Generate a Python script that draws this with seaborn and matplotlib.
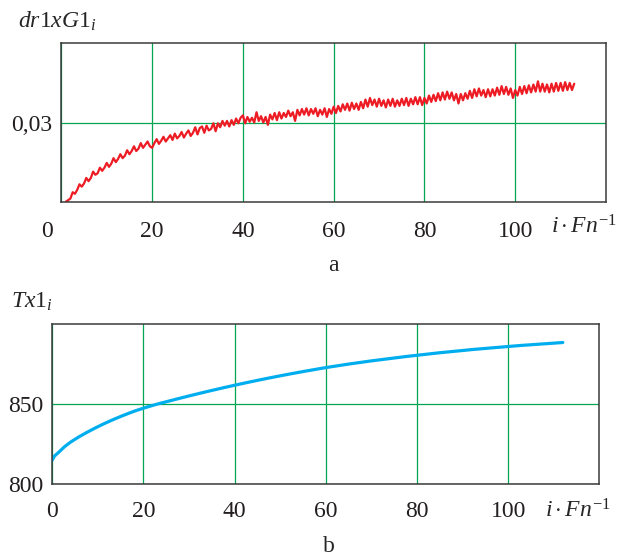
import numpy as np
import pandas as pd
import matplotlib
matplotlib.use("Agg")
import matplotlib.pyplot as plt
import matplotlib.transforms as mtransforms
import seaborn as sns

# ---- data ----
# panel a: dr1xG1_i sampled every 0.5 of i*Fn^-1 starting at 1.0
dr1xG1 = [
    # 1.0 - 5.5
    0.0200, 0.0202, 0.0204, 0.0212, 0.0210, 0.0215, 0.0222, 0.0219, 0.0223, 0.0230,
    # 6.0 - 10.5
    0.0226, 0.0230, 0.0238, 0.0234, 0.0236, 0.0243, 0.0239, 0.0243, 0.0249, 0.0244,
    # 11.0 - 15.5
    0.0248, 0.0255, 0.0250, 0.0254, 0.0260, 0.0255, 0.0258, 0.0265, 0.0260, 0.0264,
    # 16.0 - 20.5
    0.0270, 0.0264, 0.0267, 0.0274, 0.0268, 0.0272, 0.0276, 0.0270, 0.0268, 0.0274,
    # 21.0 - 25.5
    0.0279, 0.0273, 0.0277, 0.0282, 0.0276, 0.0280, 0.0284, 0.0278, 0.0286, 0.0280,
    # 26.0 - 29.5
    0.0283, 0.0288, 0.0281, 0.0286, 0.0290, 0.0283, 0.0287, 0.0294,
    # 30.0 - 34.5
    0.0285, 0.0293, 0.0295, 0.0287, 0.0296, 0.0290, 0.0292, 0.0299, 0.0289, 0.0299,
    # 35.0 - 39.5
    0.0294, 0.0302, 0.0296, 0.0302, 0.0295, 0.0303, 0.0297, 0.0305, 0.0299, 0.0306,
    # 40.0 - 44.5
    0.0309, 0.0299, 0.0307, 0.0301, 0.0306, 0.0300, 0.0313, 0.0302, 0.0308, 0.0300,
    # 45.0 - 49.5
    0.0307, 0.0297, 0.0310, 0.0304, 0.0312, 0.0303, 0.0313, 0.0305, 0.0312, 0.0307,
    # 50.0 - 54.5
    0.0315, 0.0308, 0.0313, 0.0302, 0.0316, 0.0309, 0.0317, 0.0310, 0.0318, 0.0309,
    # 55.0 - 59.5
    0.0317, 0.0311, 0.0318, 0.0308, 0.0316, 0.0310, 0.0318, 0.0307, 0.0317, 0.0311,
    # 60.0 - 64.5
    0.0320, 0.0312, 0.0321, 0.0314, 0.0323, 0.0316, 0.0324, 0.0315, 0.0325, 0.0317,
    # 65.0 - 69.5
    0.0324, 0.0316, 0.0326, 0.0318, 0.0329, 0.0320, 0.0331, 0.0322, 0.0329, 0.0320,
    # 70.0 - 74.5
    0.0330, 0.0321, 0.0328, 0.0319, 0.0329, 0.0321, 0.0330, 0.0320, 0.0328, 0.0321,
    # 75.0 - 79.5
    0.0330, 0.0322, 0.0331, 0.0321, 0.0330, 0.0323, 0.0332, 0.0323, 0.0332, 0.0322,
    # 80.0 - 84.5
    0.0331, 0.0324, 0.0334, 0.0326, 0.0335, 0.0327, 0.0337, 0.0328, 0.0338, 0.0329,
    # 85.0 - 89.5
    0.0339, 0.0330, 0.0338, 0.0328, 0.0336, 0.0324, 0.0336, 0.0328, 0.0337, 0.0330,
    # 90.0 - 94.5
    0.0340, 0.0331, 0.0342, 0.0333, 0.0343, 0.0334, 0.0341, 0.0332, 0.0342, 0.0333,
    # 95.0 - 99.5
    0.0342, 0.0334, 0.0344, 0.0335, 0.0346, 0.0336, 0.0345, 0.0335, 0.0343, 0.0331,
    # 100.0 - 104.5
    0.0341, 0.0334, 0.0345, 0.0336, 0.0346, 0.0337, 0.0347, 0.0338, 0.0348, 0.0339,
    # 105.0 - 109.5
    0.0352, 0.0339, 0.0349, 0.0339, 0.0348, 0.0338, 0.0349, 0.0339, 0.0350, 0.0340,
    # 110.0 - 113.0
    0.0350, 0.0340, 0.0351, 0.0341, 0.0350, 0.0341, 0.0349,
]
a_start = 1.0
a_step = 0.5

# panel b: Tx1_i
tx_i = [0, 0.5, 1.3, 2.7, 4, 5.7, 7.5, 9.3, 11, 13, 15, 16.6, 18, 20, 22, 23.5,
        25, 27.5, 30, 32.5, 35, 37.5, 40, 42.5, 45, 47.5, 50, 52.5, 55, 57.5,
        60, 62.5, 65, 67.5, 70, 72.5, 75, 77.5, 80, 82.5, 85, 87.5, 90, 92.5,
        95, 97.5, 100, 102.5, 105, 107.5, 110, 112]
Tx1 = [815.0, 817.6, 819.6, 823.4, 826.2, 829.3, 832.2, 834.9, 837.3, 839.9,
       842.3, 844.1, 845.6, 847.5, 849.2, 850.4,
       851.5, 853.35, 855.15, 856.9, 858.6, 860.25, 861.85, 863.4, 864.9, 866.35,
       867.75, 869.1, 870.4, 871.65,
       872.9, 874.0, 875.1, 876.1, 877.1, 878.0, 878.9, 879.8, 880.6, 881.4,
       882.2, 882.9, 883.6, 884.3,
       884.9, 885.5, 886.1, 886.7, 887.2, 887.7, 888.2, 888.6]

xticks = [0, 20, 40, 60, 80, 100]
xtick_labels = ["0", "20", "40", "60", "80", "100"]
a_yticks = [0.03]
a_ytick_labels = ["0,03"]
b_yticks = [800, 850]
b_ytick_labels = ["800", "850"]

# ---- style ----
sns.set_style("white")
plt.rcParams["font.family"] = ["Liberation Serif", "DejaVu Serif"]
plt.rcParams["mathtext.fontset"] = "custom"
plt.rcParams["mathtext.rm"] = "Liberation Serif"
plt.rcParams["mathtext.it"] = "Liberation Serif:italic"
plt.rcParams["mathtext.bf"] = "Liberation Serif:bold"

RED = "#ed1c24"
BLUE = "#00aeef"
GREEN = "#00a651"
FRAME = "#3a3a3a"
FS = 17

fig = plt.figure(figsize=(6.22, 5.56), dpi=100)
ax1 = fig.add_axes([0.0986, 0.6372, 0.8757, 0.2849])
ax2 = fig.add_axes([0.0841, 0.1295, 0.8794, 0.2872])

df_a = pd.DataFrame({"x": a_start + a_step * np.arange(len(dr1xG1)), "y": dr1xG1})
df_b = pd.DataFrame({"x": tx_i, "y": Tx1})

sns.lineplot(data=df_a, x="x", y="y", ax=ax1, color=RED, linewidth=1.6,
             estimator=None, sort=False)
sns.lineplot(data=df_b, x="x", y="y", ax=ax2, color=BLUE, linewidth=2.3,
             estimator=None, sort=False)

ax1.set_xlim(0, 120)
ax1.set_ylim(0.02, 0.04)
ax2.set_xlim(0, 120)
ax2.set_ylim(800, 900)

for ax, yt, ytl, xpad in ((ax1, a_yticks, a_ytick_labels, 14.0),
                          (ax2, b_yticks, b_ytick_labels, 12.0)):
    ax.set_xticks(xticks)
    ax.set_xticklabels(xtick_labels, fontsize=FS)
    ax.set_yticks(yt)
    ax.set_yticklabels(ytl, fontsize=FS)
    ax.tick_params(axis="both", length=0, colors="#231f20")
    ax.tick_params(axis="x", pad=xpad)
    ax.tick_params(axis="y", pad=6.5)
    ax.grid(True, color=GREEN, linewidth=0.9)
    ax.set_xlabel("")
    ax.set_ylabel("")
    for sp in ax.spines.values():
        sp.set_color(FRAME)
        sp.set_linewidth(1.1)
        sp.set_visible(True)

# shift the "0" of panel a to the left, as in the reference
lab0 = ax1.get_xticklabels()[0]
lab0.set_transform(lab0.get_transform() +
                   mtransforms.ScaledTranslation(-0.14, 0, fig.dpi_scale_trans))

# axis titles
fig.text(18 / 622, 1 - 28 / 556, r"$dr1xG1_{i}$", fontsize=FS, va="baseline", ha="left")
fig.text(11 / 622, 1 - 308 / 556, r"$Tx1_{i}$", fontsize=FS, va="baseline", ha="left")
fig.text(551 / 622, 1 - 234 / 556, r"$i\cdot Fn^{-1}$", fontsize=FS, va="baseline", ha="left")
fig.text(545 / 622, 1 - 518 / 556, r"$i\cdot Fn^{-1}$", fontsize=FS, va="baseline", ha="left")
fig.text(333 / 622, 1 - 271 / 556, "a", fontsize=FS, va="baseline", ha="center")
fig.text(329 / 622, 1 - 552 / 556, "b", fontsize=FS, va="baseline", ha="center")

fig.savefig("out.png", dpi=100)
